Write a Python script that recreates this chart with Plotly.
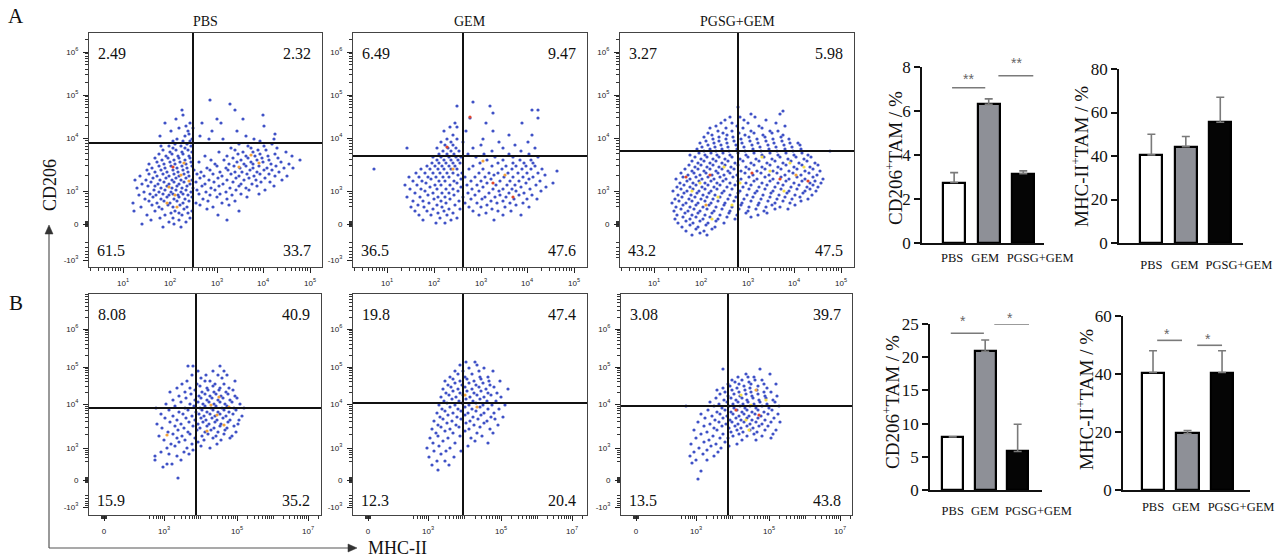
import numpy as np
import plotly.graph_objects as go

W, H = 1288, 560

GROUPS = ["PBS", "GEM", "PGSG+GEM"]

# quadrant percentages (UL, UR, LL, LR)
QUAD_A = [["2.49", "2.32", "61.5", "33.7"], ["6.49", "9.47", "36.5", "47.6"], ["3.27", "5.98", "43.2", "47.5"]]
QUAD_B = [["8.08", "40.9", "15.9", "35.2"], ["19.8", "47.4", "12.3", "20.4"], ["3.08", "39.7", "13.5", "43.8"]]

# gate positions (display channel units: x, y)
GATE_A = [(104, 124), (110, 111), (118, 116)]
GATE_B = [(107, 107), (110, 112), (107, 109)]

# axis ticks in display channel units
A_XTICKS = [34, 81, 128, 174, 221]
A_XLABELS = ["10<sup>1</sup>", "10<sup>2</sup>", "10<sup>3</sup>", "10<sup>4</sup>", "10<sup>5</sup>"]
A_YTICKS = [7, 43, 76, 129, 172, 215]
A_YLABELS = ["-10<sup>3</sup>", "0", "10<sup>3</sup>", "10<sup>4</sup>", "10<sup>5</sup>", "10<sup>6</sup>"]
B_XTICKS = [15, 75, 148, 219]
B_XLABELS = ["0", "10<sup>3</sup>", "10<sup>5</sup>", "10<sup>7</sup>"]
B_YTICKS = [8, 35, 67, 111, 148, 186]
B_YLABELS = A_YLABELS

# bar data
CD206_A = [2.75, 6.3, 3.15]
CD206_A_ERR = [0.45, 0.25, 0.13]
MHC_A = [40.5, 44.3, 55.5]
MHC_A_ERR = [9.5, 4.7, 11.5]
CD206_B = [8.0, 20.9, 5.8]
CD206_B_ERR = [0.0, 1.7, 4.1]
MHC_B = [40.5, 19.5, 40.5]
MHC_B_ERR = [7.5, 1.0, 7.5]

# where the group names sit under each bar chart (category units)
LABEL_POS_A1 = [-0.06, 0.90, 2.49]
LABEL_POS_A2 = [0.0, 0.97, 2.54]
LABEL_POS_B1 = [0.0, 0.99, 2.64]
LABEL_POS_B2 = [0.0, 0.96, 2.55]

# significance marks: (x0, x1, line y, star x, star y, text)
SIG_A1 = [(-0.06, 0.9, 7.06, 0.41, 7.45, "**"), (1.28, 2.29, 7.6, 1.8, 8.2, "**")]
SIG_B1 = [(-0.06, 0.96, 23.6, 0.32, 25.4, "*"), (1.28, 2.35, 25.0, 1.77, 25.9, "*")]
SIG_B2 = [(0.12, 0.84, 51.6, 0.41, 53.8, "*"), (1.28, 2.0, 49.9, 1.59, 52.0, "*")]

# flow events: (y, [x, ...])
A1_ROWS = [
    (40, [74, 92]), (43, [53, 85]), (45, [80, 97]), (47, [62, 90, 138]), (49, [71, 84, 101]),
    (52, [58, 76, 93, 129]), (54, [82, 90, 99]), (56, [45, 66, 86, 103, 150]), (58, [73, 95, 118]),
    (60, [52, 70, 84, 98, 124]), (62, [63, 79, 91, 111, 140]), (64, [44, 68, 81, 94, 107, 133]),
    (66, [60, 75, 88, 100, 119, 146]), (68, [56, 72, 85, 96, 114, 138]), (70, [64, 78, 90, 103, 128, 158]),
    (72, [50, 67, 80, 89, 99, 121, 143]), (73, [61, 74, 84, 94, 110, 131, 152, 170]),
    (75, [55, 70, 82, 92, 102, 117, 137]), (77, [65, 76, 87, 97, 108, 126, 147, 160, 176]),
    (79, [48, 72, 83, 93, 104, 122, 141, 157]), (81, [59, 66, 78, 88, 98, 113, 130, 150, 168, 185]),
    (83, [53, 69, 80, 90, 101, 116, 134, 152, 163]), (85, [62, 75, 85, 95, 107, 125, 144, 172, 181]),
    (87, [46, 57, 71, 83, 92, 103, 120, 138, 155, 167, 193]), (89, [64, 77, 87, 97, 111, 129, 147, 160, 176]),
    (91, [51, 68, 80, 90, 100, 115, 133, 150, 165, 186, 198]), (93, [60, 74, 85, 95, 108, 124, 142, 158, 171, 180]),
    (95, [66, 78, 89, 99, 112, 131, 146, 153, 168, 190]), (97, [58, 72, 84, 94, 105, 121, 139, 161, 175, 183]),
    (99, [63, 76, 88, 98, 118, 137, 151, 164, 178, 195, 204]), (101, [70, 82, 93, 103, 128, 145, 157, 170, 187]),
    (103, [60, 75, 86, 97, 126, 140, 155, 164, 182, 200]), (105, [68, 81, 91, 102, 110, 148, 162, 174, 192]),
    (107, [73, 85, 96, 122, 135, 152, 168, 180, 211]), (109, [66, 79, 90, 101, 144, 159, 173, 189]),
    (111, [77, 89, 100, 116, 138, 157, 166, 179, 203]), (113, [70, 83, 94, 149, 171, 186]),
    (115, [81, 93, 103, 130, 154, 164, 197]), (117, [74, 87, 99, 146, 169, 177]), (119, [84, 96, 142, 162, 188]),
    (121, [72, 80, 92, 102, 159, 175]), (123, [86, 98, 150, 183]), (126, [84, 94, 101, 171]),
    (128, [88, 103, 120, 134, 165, 185]), (131, [71, 96, 111, 157]), (133, [100, 186]),
    (136, [82, 99, 123, 148]), (139, [90, 104]), (141, [97, 175]), (144, [76, 101, 113, 132]),
    (148, [87, 128, 154]), (152, [94, 174]), (157, [93, 146]), (163, [141]), (167, [121]),
]
A2_ROWS = [
    (44, [83, 92]), (47, [70, 98, 141]), (49, [87, 104]), (52, [66, 78, 94, 126, 150, 168]),
    (54, [85, 100, 133]), (56, [62, 74, 91, 120, 145, 158]), (58, [80, 96, 107, 139]),
    (60, [58, 71, 89, 116, 128, 152, 176]), (62, [65, 84, 102, 134, 163]),
    (64, [76, 93, 112, 124, 144, 157, 170]), (66, [60, 70, 88, 106, 138, 150]),
    (68, [81, 97, 118, 129, 161, 174, 184]), (70, [54, 67, 85, 92, 110, 132, 142, 153]),
    (72, [75, 101, 122, 147, 166, 179]), (74, [62, 80, 89, 96, 115, 136, 156, 171]),
    (76, [72, 105, 126, 146, 163, 188]), (78, [57, 68, 84, 93, 100, 119, 140, 150, 159, 177]),
    (80, [77, 108, 130, 168, 193]), (82, [52, 64, 82, 88, 97, 114, 124, 143, 154, 162, 183]),
    (84, [73, 104, 134, 173, 200]), (86, [60, 69, 86, 92, 101, 118, 128, 147, 157, 166, 187]),
    (88, [78, 108, 138, 176]), (90, [56, 66, 75, 83, 90, 96, 112, 122, 132, 151, 160, 170, 180]),
    (92, [105, 141, 192]), (94, [63, 72, 80, 87, 94, 100, 109, 126, 136, 145, 155, 165, 174, 185]),
    (96, [204]), (98, [21, 68, 77, 85, 91, 98, 104, 116, 130, 149, 159, 169, 178, 189]),
    (101, [74, 82, 89, 96, 102, 120, 139, 153, 163, 173, 182]), (104, [79, 86, 93, 100, 107, 127, 145, 160, 171, 180]),
    (107, [84, 91, 98, 105, 134, 150, 167, 178]), (110, [80, 88, 96, 103, 108, 123, 142, 160, 185]),
    (113, [86, 94, 101, 115, 131, 156, 176]), (116, [90, 98, 106, 139, 168]),
    (119, [54, 84, 95, 103, 120, 150, 182]), (122, [92, 100, 128, 162]), (125, [88, 98, 110, 146, 175]),
    (128, [94, 104, 130]), (132, [100, 156, 179]), (136, [91, 113, 140]), (140, [97, 104]),
    (144, [102, 133, 169]), (149, [117, 185]), (154, [140]), (157, [185, 179]), (161, [104, 137]), (165, [120]),
]
A3_ROWS = [
    (32, [72, 87]), (34, [80]), (36, [66, 84]), (38, [76, 92]), (40, [62, 78, 95]), (42, [70, 86]),
    (44, [58, 73, 88, 104]), (46, [66, 80, 96]), (48, [55, 70, 83, 98, 115]), (50, [63, 76, 90, 107, 131]),
    (52, [57, 72, 85, 100, 117, 138]), (54, [65, 78, 92, 109, 126, 147]), (56, [54, 68, 80, 94, 110, 128, 144]),
    (58, [61, 74, 87, 102, 119, 136, 155, 168]), (60, [56, 70, 83, 96, 112, 129, 146, 160]),
    (62, [63, 76, 89, 104, 121, 138, 152, 175]), (64, [52, 66, 78, 91, 105, 122, 139, 155, 170]),
    (66, [59, 72, 85, 98, 114, 131, 148, 163, 181]), (68, [55, 69, 81, 93, 108, 124, 141, 157, 172, 188]),
    (70, [62, 75, 87, 100, 116, 133, 150, 165, 180]), (72, [58, 71, 83, 95, 110, 127, 143, 159, 175, 192]),
    (74, [64, 77, 89, 102, 118, 135, 151, 167, 183]), (76, [53, 67, 79, 91, 104, 120, 137, 153, 169, 185, 196]),
    (78, [61, 73, 85, 97, 112, 129, 145, 161, 177, 190]), (80, [57, 70, 82, 94, 107, 123, 139, 155, 171, 187, 198]),
    (82, [64, 76, 88, 100, 115, 131, 147, 163, 179, 193]), (84, [60, 73, 85, 97, 110, 126, 142, 158, 174, 190, 201]),
    (86, [67, 79, 91, 103, 118, 134, 150, 166, 182, 195]), (88, [56, 70, 82, 94, 106, 121, 137, 153, 169, 185, 203]),
    (90, [63, 76, 88, 100, 113, 129, 145, 161, 177, 193]), (92, [68, 80, 92, 104, 117, 133, 149, 165, 181, 197]),
    (94, [61, 74, 86, 98, 110, 125, 141, 157, 173, 189]), (96, [72, 84, 96, 108, 121, 137, 153, 169, 185, 200]),
    (98, [65, 78, 90, 102, 114, 129, 145, 161, 177, 193]), (100, [75, 87, 99, 111, 126, 142, 158, 174, 190]),
    (102, [69, 81, 93, 105, 118, 134, 150, 166, 182, 198]), (104, [78, 90, 102, 115, 131, 147, 163, 179, 195]),
    (106, [72, 84, 96, 108, 123, 139, 155, 171, 187]), (108, [81, 93, 105, 120, 136, 152, 168, 184]),
    (110, [75, 87, 99, 112, 128, 144, 160, 176, 191]), (112, [70, 85, 97, 110, 126, 142, 158, 174, 188]),
    (114, [79, 91, 103, 118, 134, 150, 166, 182]), (116, [84, 96, 109, 125, 141, 157, 173, 210]),
    (118, [77, 90, 102, 117, 133, 149, 165, 181]), (120, [82, 95, 108, 124, 140, 156, 172]),
    (122, [88, 101, 116, 132, 148, 164, 180]), (124, [80, 94, 107, 122, 138, 154, 170, 178]),
    (126, [86, 99, 114, 130, 146, 162]), (128, [93, 106, 121, 137, 153, 169]), (130, [84, 99, 113, 129, 145, 161]),
    (132, [92, 107, 125, 143, 163]), (134, [88, 103, 119, 134, 152]), (136, [98, 112, 131, 150, 158]),
    (139, [90, 106, 123, 142]), (141, [96, 117, 139, 165]), (144, [101, 112, 128, 156]), (147, [105, 124, 146]),
    (150, [110, 120, 135]), (153, [131, 160]), (156, [163]), (160, [118]),
]
B1_ROWS = [
    (37, [89]), (48, [74]), (51, [78, 83]), (55, [66, 92]), (59, [66, 88]), (61, [80, 100]), (63, [72, 95]),
    (65, [104]), (67, [78, 98, 121]), (69, [86, 112]), (71, [82, 103, 128]), (73, [90, 109]),
    (75, [75, 96, 115, 132]), (77, [88, 106, 124, 141]), (79, [70, 93, 113, 127, 143]), (81, [84, 101, 119, 135]),
    (83, [79, 99, 116, 129, 147]), (85, [89, 108, 122, 136]), (87, [73, 95, 111, 125, 138]),
    (89, [86, 104, 118, 131, 145]), (91, [68, 92, 109, 120, 132, 149]), (93, [81, 100, 114, 126, 139]),
    (95, [88, 106, 117, 128, 141, 150]), (97, [76, 97, 112, 123, 134]), (99, [84, 103, 115, 126, 137, 153]),
    (101, [72, 94, 110, 121, 131, 144]), (103, [90, 107, 118, 129, 140]), (105, [80, 99, 113, 124, 135, 147]),
    (107, [67, 96, 111, 122, 133, 145, 155]), (109, [86, 105, 116, 127, 138]), (111, [77, 101, 114, 125, 136, 151]),
    (113, [92, 109, 120, 131, 143]), (115, [84, 106, 118, 129, 141]), (117, [97, 112, 123, 134, 148]),
    (119, [90, 110, 121, 132, 146]), (121, [102, 116, 127, 139]), (123, [81, 96, 113, 125, 137]),
    (125, [106, 119, 130, 144]), (127, [88, 101, 118, 131, 140]), (129, [111, 124]), (131, [93, 108, 126, 135]),
    (134, [98, 116, 121, 146]), (137, [112, 133]), (140, [103, 117, 129, 138]), (144, [109, 124, 135]),
    (149, [99, 104, 131]),
]
B2_ROWS = [
    (45, [85]), (50, [79, 96]), (54, [84, 92]), (58, [76, 101]), (61, [88]), (64, [81, 93, 108]), (67, [74, 97]),
    (69, [86, 115]), (72, [80, 102, 135]), (74, [90, 122]), (77, [77, 95, 118]), (79, [85, 107, 129]),
    (82, [83, 100, 124, 140]), (84, [92, 112]), (86, [79, 97, 116, 137]), (88, [88, 106, 127]),
    (90, [85, 103, 121, 145]), (92, [94, 113, 131]), (94, [81, 99, 117, 134]), (96, [90, 108, 125, 142]),
    (98, [87, 104, 120, 138, 150]), (100, [95, 112, 128]), (102, [84, 100, 115, 131, 141]), (104, [92, 108, 123]),
    (106, [89, 105, 119, 135, 146]), (108, [97, 112, 127]), (110, [86, 102, 116, 130, 139, 152]),
    (112, [94, 109, 123]), (114, [91, 106, 120, 134, 143]), (116, [99, 113, 127]), (118, [88, 103, 117, 131, 148]),
    (120, [96, 110, 124, 138]), (122, [93, 107, 121, 135, 144]), (124, [100, 114, 128]),
    (126, [90, 105, 119, 133, 155]), (128, [98, 112, 126, 141]), (130, [95, 109, 123, 137]), (132, [102, 116, 130]),
    (134, [92, 107, 121, 136, 147]), (136, [100, 114, 128]), (138, [97, 112, 127, 135]), (141, [105, 119]),
    (144, [102, 110, 126, 140]), (147, [116, 131]), (150, [107, 124]), (153, [113, 122]),
]
B3_ROWS = [
    (36, [77]), (44, [80]), (52, [71]), (55, [75, 86]), (59, [69, 93]), (61, [82]), (63, [73, 97]), (65, [86]),
    (67, [78, 100]), (69, [90, 108]), (71, [70, 95, 116]), (73, [83, 104]), (75, [88, 121, 135]),
    (77, [75, 99, 107, 150]), (79, [92, 112, 126, 141]), (81, [80, 102, 118, 133, 152]), (83, [86, 110, 122, 136]),
    (85, [73, 96, 116, 129, 144, 155]), (87, [93, 108, 120, 132]), (89, [83, 101, 114, 126, 138, 147]),
    (91, [89, 105, 117, 129, 141]), (93, [77, 98, 111, 123, 135, 150, 159]), (95, [94, 109, 120, 131, 144]),
    (97, [84, 102, 115, 126, 137, 153]), (99, [91, 106, 118, 128, 140]), (101, [80, 99, 112, 123, 134, 147, 157]),
    (103, [96, 110, 121, 131, 143]), (105, [87, 104, 116, 126, 137, 151]), (107, [101, 113, 124, 135, 148]),
    (109, [65, 93, 108, 119, 129, 141, 158]), (111, [98, 112, 122, 133, 146]), (113, [89, 106, 117, 127, 139, 154]),
    (115, [103, 115, 126, 138, 152]), (117, [95, 110, 121, 132, 145]), (119, [107, 119, 131, 144, 156]),
    (121, [99, 113, 125, 137]), (123, [104, 118, 130, 143, 150]), (125, [96, 111, 124, 136]),
    (127, [102, 116, 129, 146]), (129, [109, 123, 137]), (131, [107, 118, 130, 143, 155]), (133, [114, 128]),
    (135, [111, 121, 134, 141]), (138, [117, 127, 133]), (141, [125, 149]), (146, [102, 139]),
]

# high-density events (x, y, colour key)
A1_HOT = [(80, 80, "o"), (86, 72, "o"), (92, 92, "o"), (78, 64, "o"), (95, 104, "o"), (84, 100, "r"),
          (150, 100, "o"), (162, 112, "o"), (170, 104, "o"), (88, 60, "o"), (100, 86, "o")]
A2_HOT = [(117, 150, "r"), (94, 120, "r"), (100, 98, "o"), (140, 84, "r"), (152, 92, "o"), (160, 70, "r"), (130, 106, "o")]
A3_HOT = [(80, 84, "y"), (90, 92, "r"), (72, 76, "y"), (98, 70, "y"), (86, 62, "o"), (104, 100, "y"), (66, 90, "r"),
          (150, 96, "y"), (160, 88, "r"), (170, 104, "y"), (176, 92, "o"), (142, 110, "y"), (184, 100, "y"),
          (164, 76, "y"), (120, 84, "y"), (132, 94, "r"), (112, 62, "y"), (92, 48, "y"), (188, 86, "r")]
B1_HOT = [(128, 100, "o"), (135, 90, "o"), (122, 110, "o"), (140, 108, "o"), (118, 84, "o"), (78, 80, "o"), (130, 118, "o")]
B2_HOT = [(112, 120, "o"), (124, 108, "o")]
B3_HOT = [(130, 110, "y"), (138, 100, "r"), (125, 95, "y"), (145, 115, "y"), (120, 120, "y"), (135, 125, "o"),
          (128, 85, "y"), (115, 105, "r")]

HOT_COLORS = {"o": "#f2a33a", "y": "#f4e04a", "r": "#e2452b"}
DOT_BLUE = "#3f51c6"
SERIF = "Liberation Serif"
SANS = "Liberation Sans"


def px_x(x0, x1):
    return [x0 / W, x1 / W]


def px_y(y0, y1):
    return [1 - y1 / H, 1 - y0 / H]


def sfx(i):
    return "" if i == 1 else str(i)


def rows_to_xy(rows):
    xs, ys = [], []
    for y, row in rows:
        for x in row:
            xs.append(x)
            ys.append(y)
    return xs, ys


def decade_minors(decades):
    out = []
    for a, b in zip(decades[:-1], decades[1:]):
        out += [a + np.log10(m) * (b - a) for m in range(2, 10)]
    return out


def biex_minors(zero, neg, p3, p4):
    # ticks between 0 and 10^3, a dense block round 0, mirrored below 0
    pos = [p3 - (1 - np.log10(m)) * (p4 - p3) for m in range(5, 10)]
    blob = [zero + d for d in (-2.5, -1.5, -0.5, 0.5, 1.5, 2.5)]
    negs = [zero - (p - zero) * (zero - neg) / (p3 - zero) for p in pos]
    return pos + blob + negs


def paper_note(text, px, py, size, angle=0, anchor="center", color="#111", family=SERIF):
    return dict(text=text, xref="paper", yref="paper", x=px / W, y=1 - py / H, xanchor=anchor,
                yanchor="middle", textangle=angle, showarrow=False,
                font=dict(family=family, size=size, color=color))


top_x_minor = [v for v in decade_minors([-13, 34, 81, 128, 174, 221, 268]) if 0 < v < 233]
top_y_minor = decade_minors([76, 129, 172, 215, 258]) + biex_minors(43, 7, 76, 129)
top_y_minor = [v for v in top_y_minor if 0 < v < 234]
bot_x_minor = decade_minors([75, 111, 148, 184, 219, 255]) + [75 - (1 - np.log10(m)) * 36 for m in range(4, 10)]
bot_x_minor += [15 + d for d in (-2.5, -1.5, -0.5, 0.5, 1.5, 2.5)] + [111, 184]
bot_x_minor = [v for v in bot_x_minor if 0 < v < 232]
bot_y_minor = decade_minors([67, 111, 148, 186, 224]) + biex_minors(35, 8, 67, 111)
bot_y_minor = [v for v in bot_y_minor if 0 < v < 221]

fig = go.Figure()
layout = {}
shapes = []
annotations = []

flow_panels = [
    # idx, box px (x0, x1, y0, y1), rows, hot, gate, quad, row kind
    (1, (89, 322, 33, 267), A1_ROWS, A1_HOT, GATE_A[0], QUAD_A[0], "A"),
    (2, (353, 587, 33, 267), A2_ROWS, A2_HOT, GATE_A[1], QUAD_A[1], "A"),
    (3, (620, 854, 33, 267), A3_ROWS, A3_HOT, GATE_A[2], QUAD_A[2], "A"),
    (4, (89, 321, 294, 515), B1_ROWS, B1_HOT, GATE_B[0], QUAD_B[0], "B"),
    (5, (353, 587, 294, 515), B2_ROWS, B2_HOT, GATE_B[1], QUAD_B[1], "B"),
    (6, (621, 852, 294, 515), B3_ROWS, B3_HOT, GATE_B[2], QUAD_B[2], "B"),
]

for idx, (bx0, bx1, by0, by1), rows, hot, gate, quad, kind in flow_panels:
    s = sfx(idx)
    xs, ys = rows_to_xy(rows)
    fig.add_trace(go.Scatter(x=xs, y=ys, mode="markers", xaxis="x" + s, yaxis="y" + s,
                             marker=dict(size=3.2, color=DOT_BLUE), showlegend=False, hoverinfo="skip"))
    fig.add_trace(go.Scatter(x=[h[0] for h in hot], y=[h[1] for h in hot], mode="markers",
                             xaxis="x" + s, yaxis="y" + s,
                             marker=dict(size=3.2, color=[HOT_COLORS[h[2]] for h in hot]),
                             showlegend=False, hoverinfo="skip"))

    if kind == "A":
        xt, xl, xm, yt, yl, ym = A_XTICKS, A_XLABELS, top_x_minor, A_YTICKS, A_YLABELS, top_y_minor
        if idx == 3:
            yt, yl = A_YTICKS[1:], A_YLABELS[1:]
        bot_shift = 17
    else:
        xt, xl, xm, yt, yl, ym = B_XTICKS, B_XLABELS, bot_x_minor, B_YTICKS, B_YLABELS, bot_y_minor
        bot_shift = 15
    common = dict(showline=True, linecolor="#444", linewidth=1, mirror=True, showgrid=False, zeroline=False,
                  ticks="outside", ticklen=5, tickwidth=1.3, tickcolor="#222", automargin=False,
                  tickfont=dict(family=SANS, size=8, color="#222"), tickmode="array", tickangle=0)
    layout["xaxis" + s] = dict(common, domain=px_x(bx0, bx1), anchor="y" + s, range=[0, bx1 - bx0],
                               tickvals=xt, ticktext=xl, ticklabelstandoff=3,
                               minor=dict(tickmode="array", tickvals=xm, ticks="outside", ticklen=3,
                                          tickwidth=0.8, tickcolor="#333"))
    layout["yaxis" + s] = dict(common, domain=px_y(by0, by1), anchor="x" + s, range=[0, by1 - by0],
                               tickvals=yt, ticktext=yl, ticklabelstandoff=3,
                               minor=dict(tickmode="array", tickvals=ym, ticks="outside", ticklen=3,
                                          tickwidth=0.8, tickcolor="#333"))

    gx, gy = gate
    shapes.append(dict(type="line", xref="x" + s, yref="y" + s + " domain", x0=gx, x1=gx, y0=0, y1=1,
                       line=dict(color="#111", width=2)))
    shapes.append(dict(type="line", xref="x" + s + " domain", yref="y" + s, x0=0, x1=1, y0=gy, y1=gy,
                       line=dict(color="#111", width=2)))

    qfont = dict(family=SERIF, size=16, color="#111")
    annotations += [
        dict(text=quad[0], xref="x" + s + " domain", yref="y" + s + " domain", x=0, y=1, xanchor="left",
             yanchor="middle", xshift=7, yshift=-20, showarrow=False, font=qfont),
        dict(text=quad[1], xref="x" + s + " domain", yref="y" + s + " domain", x=1, y=1, xanchor="right",
             yanchor="middle", xshift=-9, yshift=-20, showarrow=False, font=qfont),
        dict(text=quad[2], xref="x" + s + " domain", yref="y" + s + " domain", x=0, y=0, xanchor="left",
             yanchor="middle", xshift=6, yshift=bot_shift, showarrow=False, font=qfont),
        dict(text=quad[3], xref="x" + s + " domain", yref="y" + s + " domain", x=1, y=0, xanchor="right",
             yanchor="middle", xshift=-9, yshift=bot_shift, showarrow=False, font=qfont),
    ]

# column titles
for idx, name in zip([1, 2, 3], GROUPS):
    annotations.append(dict(text=name, xref="x" + sfx(idx) + " domain", yref="paper", x=0.5, y=1 - 22 / H,
                            xanchor="center", yanchor="middle", showarrow=False,
                            font=dict(family=SERIF, size=14, color="#111")))

# bar charts
bar_panels = [
    # idx, box px (x0, x1, y0, y1), values, errors, y range, y ticks, x range, label pos, label standoff, sig
    (7, (922, 1044, 67, 243), CD206_A, CD206_A_ERR, [0, 8], [0, 2, 4, 6, 8], [-0.93, 2.6], LABEL_POS_A1, 2, SIG_A1),
    (8, (1119, 1243, 69, 243), MHC_A, MHC_A_ERR, [0, 80], [0, 20, 40, 60, 80], [-0.94, 2.66], LABEL_POS_A2, 9, []),
    (9, (930, 1042, 324, 490), CD206_B, CD206_B_ERR, [0, 25], [0, 5, 10, 15, 20, 25], [-0.70, 2.75], LABEL_POS_B1, 8, SIG_B1),
    (10, (1123, 1250, 316, 490), MHC_B, MHC_B_ERR, [0, 60], [0, 20, 40, 60], [-0.87, 2.81], LABEL_POS_B2, 4, SIG_B2),
]
BAR_FILLS = ["#ffffff", "#8e9097", "#050505"]

for idx, (bx0, bx1, by0, by1), vals, errs, yr, yt, xr, lpos, stand, sig in bar_panels:
    s = sfx(idx)
    fig.add_trace(go.Bar(x=[0, 1, 2], y=vals, width=0.64, xaxis="x" + s, yaxis="y" + s,
                         marker=dict(color=BAR_FILLS, line=dict(color="#000", width=2.2)),
                         error_y=dict(type="data", symmetric=False, array=errs, arrayminus=[0, 0, 0],
                                      color="#7a7a7a", thickness=1.6, width=4),
                         showlegend=False, hoverinfo="skip"))
    layout["xaxis" + s] = dict(domain=px_x(bx0, bx1), anchor="y" + s, range=xr, tickmode="array",
                               tickvals=lpos, ticktext=GROUPS, showline=True, linecolor="#111",
                               linewidth=1.8, ticks="", showgrid=False, zeroline=False, automargin=False,
                               tickangle=0, ticklabelstandoff=stand,
                               tickfont=dict(family=SERIF, size=12.5, color="#111"))
    layout["yaxis" + s] = dict(domain=px_y(by0, by1), anchor="x" + s, range=yr, tickmode="array", tickvals=yt,
                               showline=True, linecolor="#111", linewidth=1.8, ticks="outside", ticklen=6,
                               tickwidth=1.8, tickcolor="#111", showgrid=False, zeroline=False, automargin=False,
                               tickfont=dict(family=SERIF, size=17, color="#111"))
    ymax = yr[1]
    for x0, x1, ly, sx, sy, txt in sig:
        shapes.append(dict(type="line", xref="x" + s, yref="y" + s, x0=x0, x1=x1, y0=ly, y1=ly,
                           line=dict(color="#7a7a7a", width=1.6)))
        annotations.append(dict(text=txt, xref="x" + s + " domain", yref="y" + s + " domain",
                                x=(sx - xr[0]) / (xr[1] - xr[0]), y=sy / ymax, xanchor="center",
                                yanchor="middle", showarrow=False,
                                font=dict(family=SANS, size=14, color="#666")))

# bar y titles
ytitles = [("CD206<sup>+</sup>TAM / %", 894, 158), ("MHC-II<sup>+</sup>TAM / %", 1080, 157),
           ("CD206<sup>+</sup>TAM / %", 891, 402), ("MHC-II<sup>+</sup>TAM / %", 1085, 400)]
for txt, tx, ty in ytitles:
    annotations.append(paper_note(txt, tx, ty, 19, angle=-90))

# panel letters, axis names and the L-shaped arrows
annotations += [
    paper_note("A", 16, 16, 21),
    paper_note("B", 16, 303, 21),
    paper_note("CD206", 50, 185, 18, angle=-90),
    paper_note("MHC-II", 366, 548, 18, anchor="left"),
]
shapes += [
    dict(type="line", xref="paper", yref="paper", x0=49 / W, x1=49 / W, y0=1 - 548 / H, y1=1 - 232 / H,
         line=dict(color="#555", width=1.2)),
    dict(type="line", xref="paper", yref="paper", x0=49 / W, x1=350 / W, y0=1 - 548 / H, y1=1 - 548 / H,
         line=dict(color="#555", width=1.2)),
    dict(type="path", xref="paper", yref="paper", fillcolor="#333", line=dict(color="#333", width=0.5),
         path="M {} {} L {} {} L {} {} Z".format(45 / W, 1 - 234 / H, 53 / W, 1 - 234 / H, 49 / W, 1 - 225 / H)),
    dict(type="path", xref="paper", yref="paper", fillcolor="#333", line=dict(color="#333", width=0.5),
         path="M {} {} L {} {} L {} {} Z".format(348 / W, 1 - 544 / H, 348 / W, 1 - 552 / H, 357 / W, 1 - 548 / H)),
]

fig.update_layout(**layout)
fig.update_layout(width=W, height=H, margin=dict(l=0, r=0, t=0, b=0), paper_bgcolor="white",
                  plot_bgcolor="white", shapes=shapes, annotations=annotations, bargap=0)

fig.write_html("out.html", config={"displayModeBar": False},
               post_script="document.body.style.margin = '0';")
